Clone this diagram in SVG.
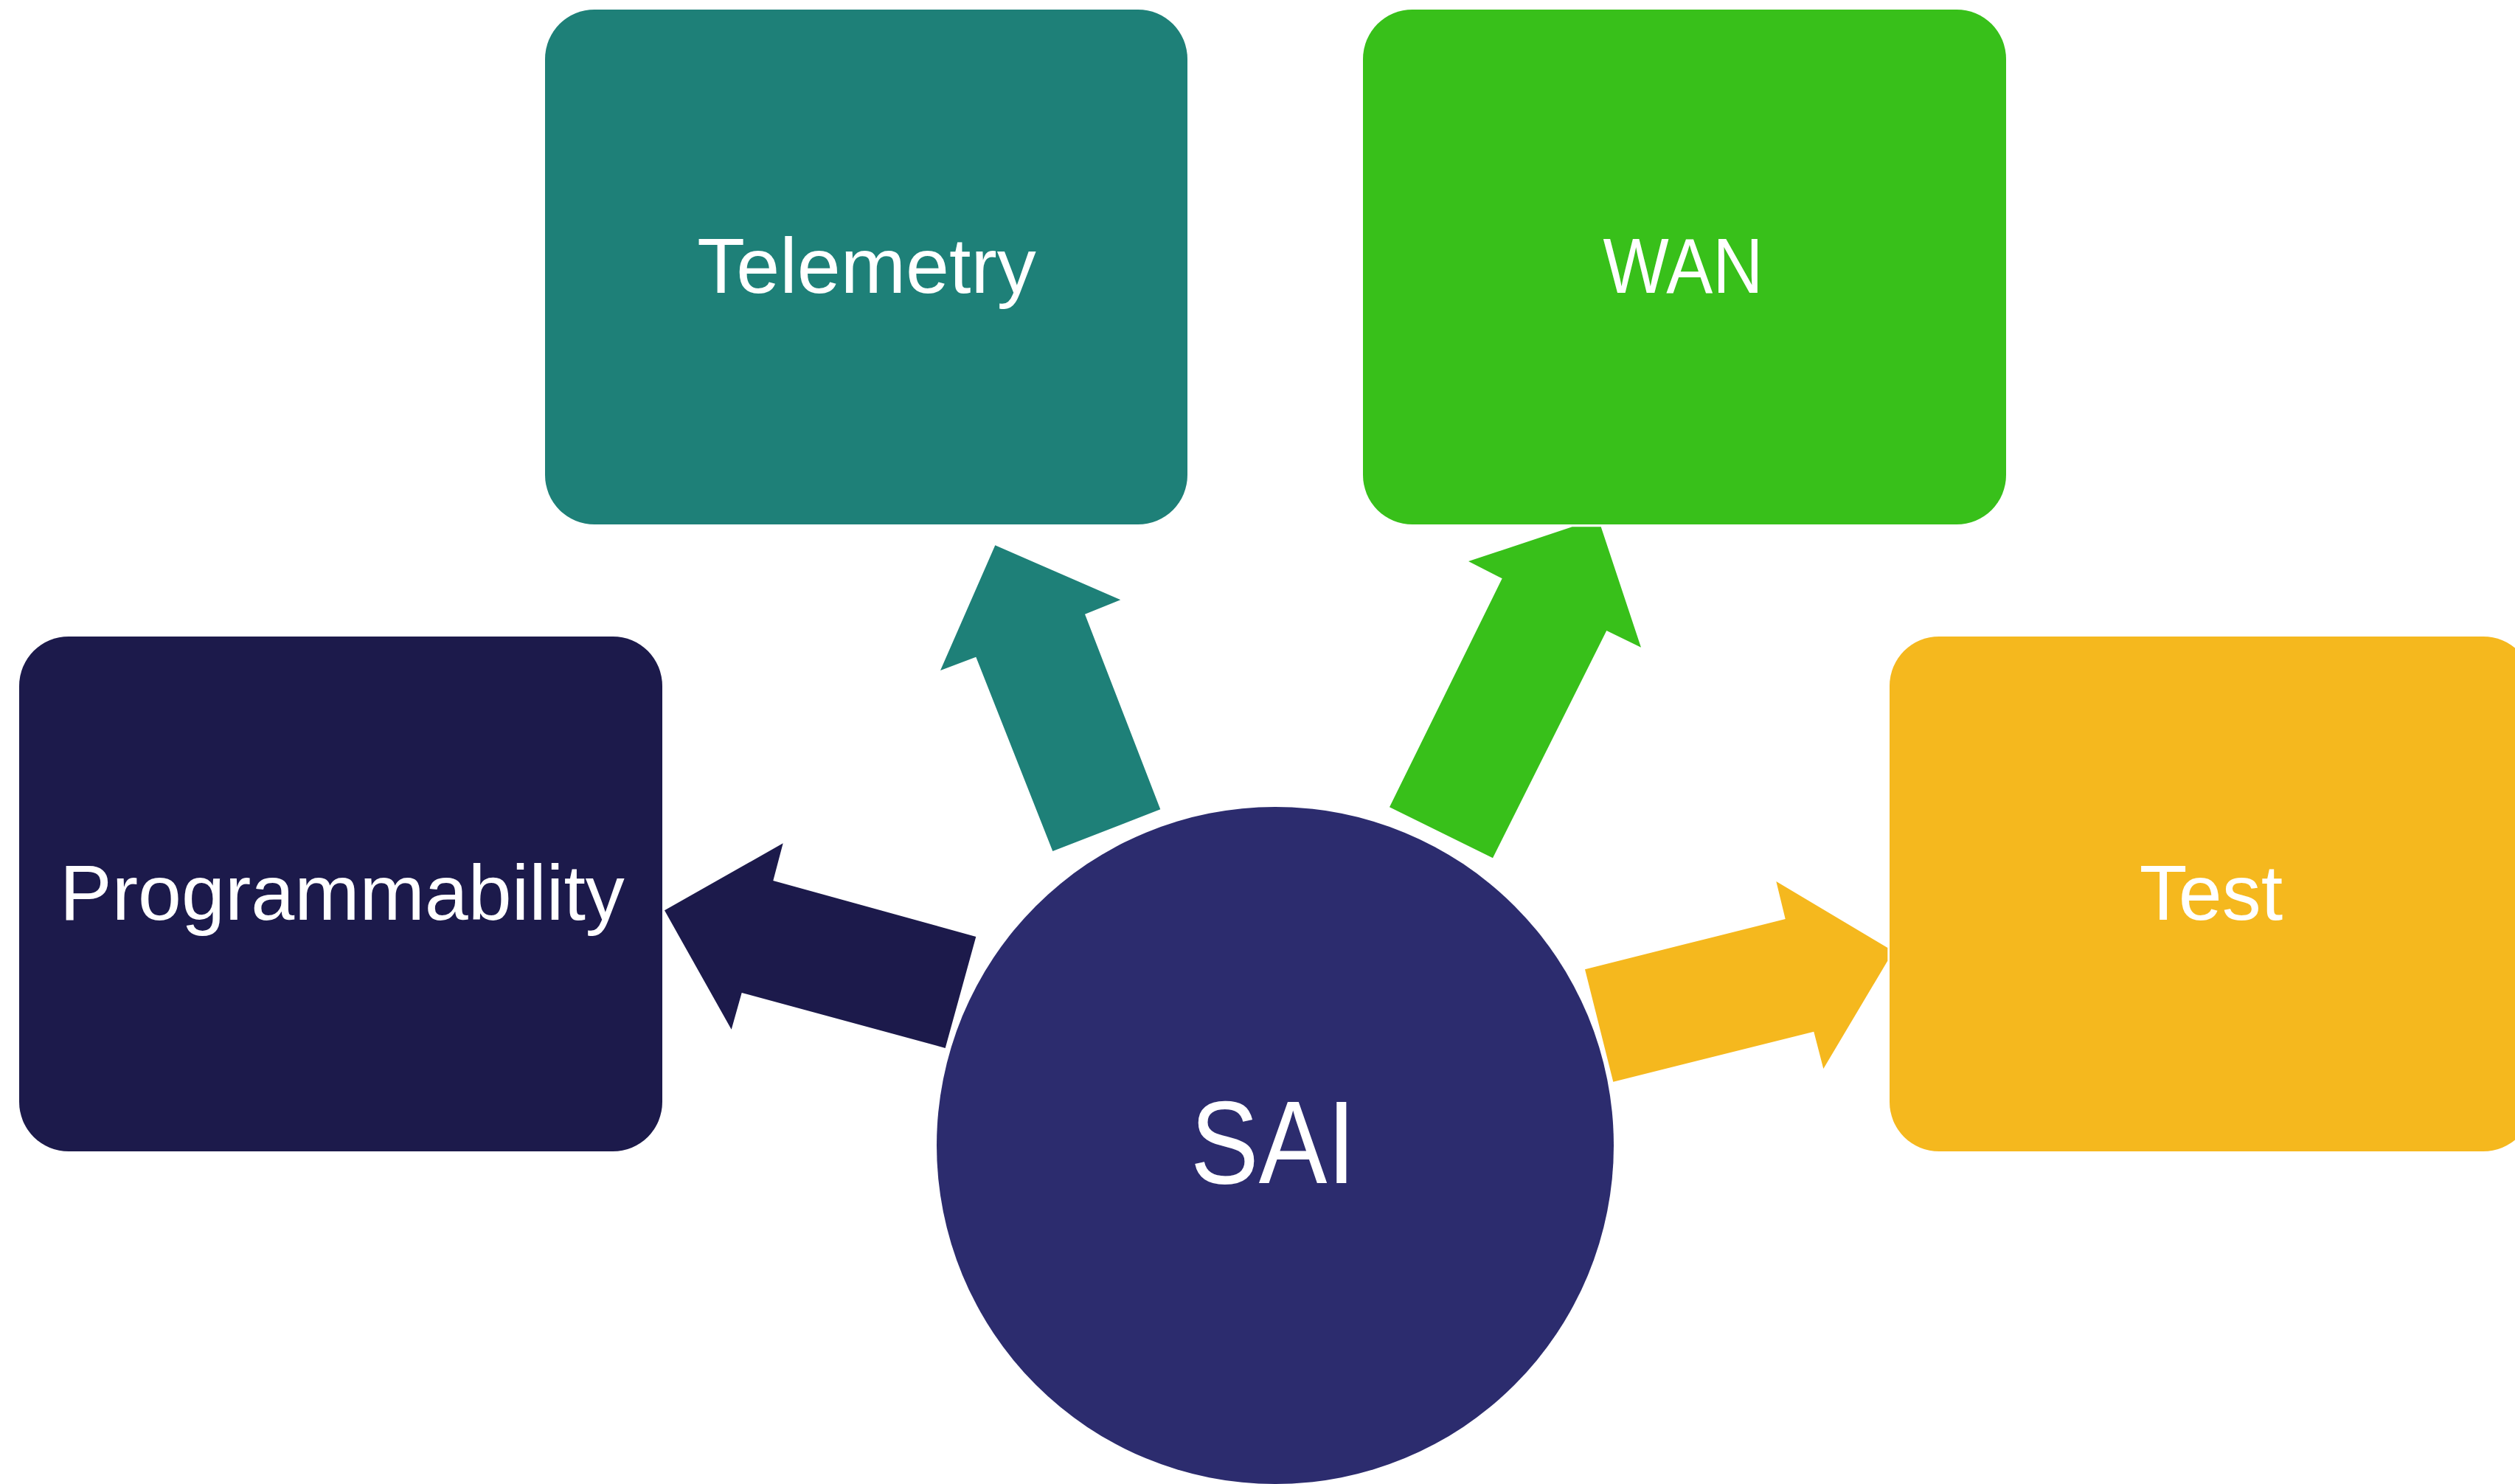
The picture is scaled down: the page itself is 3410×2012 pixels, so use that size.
<svg xmlns="http://www.w3.org/2000/svg" width="3410" height="2012" viewBox="0 0 3410 2012">
<style>
.lbl{font-family:"Liberation Sans",Arial,sans-serif;fill:#ffffff;text-anchor:middle}
.box{font-size:106px}
.big{font-size:160px}
</style>
<rect width="3410" height="2012" fill="#ffffff"/>
<g id="connectors">
<polygon id="arrow-telemetry" fill="#1E8078" points="1349.3,739.3 1519.3,813.3 1471,832.7 1573.3,1097.3 1427.3,1154 1323.3,890.7 1275,909"/>
<polygon id="arrow-wan" fill="#38C01A" points="1991,761 2131.7,714.3 2170.7,714.3 2225,877.7 2178.3,855 2024,1163.3 1884,1094.3 2036.7,784.3"/>
<polygon id="arrow-programmability" fill="#1C1A4B" points="901,1234.3 1061.7,1143.3 1048.3,1194 1323.3,1270 1281.7,1421 1005.7,1346 991.7,1395.7"/>
<polygon id="arrow-test" fill="#F5B81E" points="2149,1314.3 2420.7,1246 2408.3,1195 2559.3,1285 2559.3,1302.7 2472.3,1449 2459.3,1398.7 2187.3,1466.7"/>
</g>
<g id="node-telemetry">
<rect x="739" y="13" width="871" height="698" rx="67" ry="67" fill="#1E8078"/>
<text class="lbl box" x="1175" y="397">Telemetry</text>
</g>
<g id="node-wan">
<rect x="1848" y="13" width="872" height="698" rx="67" ry="67" fill="#38C01A"/>
<text class="lbl box" x="2282" y="397" textLength="217" lengthAdjust="spacingAndGlyphs">WAN</text>
</g>
<g id="node-programmability">
<rect x="26" y="863" width="872" height="698" rx="67" ry="67" fill="#1C1A4B"/>
<text class="lbl box" x="464" y="1247">Programmability</text>
</g>
<g id="node-test">
<rect x="2562" y="863" width="872" height="698" rx="67" ry="67" fill="#F5B81E"/>
<text class="lbl box" x="2998" y="1247">Test</text>
</g>
<g id="node-sai">
<circle cx="1729" cy="1553" r="459" fill="#2C2C6E"/>
<text class="lbl big" x="1726" y="1604" textLength="224" lengthAdjust="spacingAndGlyphs">SAI</text>
</g>
</svg>
